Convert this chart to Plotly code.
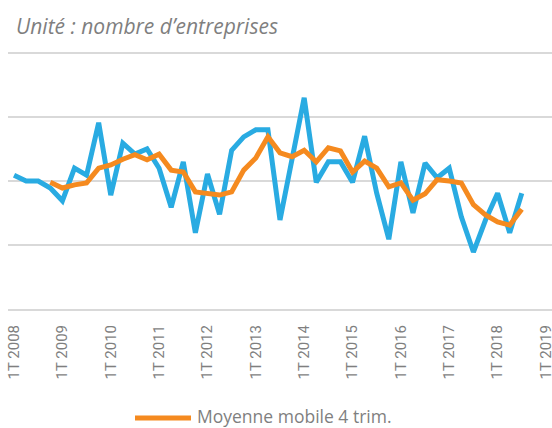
import plotly.graph_objects as go

# Quarters 1T 2008 .. 3T 2018
quarters = [f"{q}T {y}" for y in range(2008, 2019) for q in range(1, 5)][:43]

# Quarterly number of companies (arbitrary units)
valeurs = [209, 200, 200, 189, 169, 220, 209, 291, 178, 259,
           242, 250, 220, 159, 230, 119, 211, 148, 248, 269,
           280, 280, 139, 234, 330, 198, 230, 230, 198, 270,
           181, 109, 230, 150, 228, 205, 220, 144, 89, 139,
           181, 119, 181]

# 4-quarter moving average, starting 4T 2008
moyenne = [198, 189, 194, 197, 220, 225, 234, 241, 233, 242,
           217, 214, 183, 181, 178, 183, 217, 236, 269, 244,
           238, 248, 230, 252, 247, 214, 231, 220, 191, 197,
           170, 180, 202, 200, 197, 163, 147, 136, 131, 156]

tick_labels = [f"1T {y}" for y in range(2008, 2020)]
tick_pos = [4 * i for i in range(len(tick_labels))]
grid_vals = [0, 100, 200, 300, 400]

x_all = list(range(len(quarters)))
x_ma = x_all[3:]

BLUE = "#29ABE2"
ORANGE = "#F58A1F"
GREY = "#7f7f7f"

PLOT_H = 270  # px
fig = go.Figure()
fig.add_trace(go.Scatter(x=x_all, y=valeurs, mode="lines",
                         line=dict(color=BLUE, width=5),
                         showlegend=False, name="Nombre"))
fig.add_trace(go.Scatter(x=x_ma, y=moyenne, mode="lines",
                         line=dict(color=ORANGE, width=5),
                         showlegend=False, name="Moyenne mobile 4 trim."))

fig.update_layout(
    width=552, height=428,
    margin=dict(l=8, r=0, t=428 - 119 - PLOT_H, b=119),
    paper_bgcolor="white", plot_bgcolor="white",
    font=dict(family="Open Sans, Roboto, sans-serif", color=GREY),
    showlegend=False,
    xaxis=dict(range=[-0.5, 44.5], tickmode="array", tickvals=tick_pos,
               ticktext=tick_labels, tickangle=-90, showgrid=False,
               zeroline=False, showline=True, linecolor="#d9d9d9", linewidth=2,
               ticks="", tickfont=dict(family="Roboto", size=15, color=GREY),
               ticklabelstandoff=8, automargin=False, ticklabeloverflow="allow"),
    yaxis=dict(range=[0, 400 * PLOT_H / 256], tickmode="array", tickvals=grid_vals,
               showgrid=True, gridcolor="#d9d9d9", layer="below traces",
               gridwidth=2, zeroline=False, showticklabels=False, ticks="",
               showline=False, automargin=False),
    shapes=[dict(type="line", xref="paper", yref="paper",
                 x0=(135 - 8) / 544, x1=(191 - 8) / 544,
                 y0=-109 / PLOT_H, y1=-109 / PLOT_H,
                 line=dict(color=ORANGE, width=5))],
    annotations=[
        dict(text="Unité : nombre d’entreprises", xref="paper", yref="paper",
             x=0, xshift=6, y=1, yshift=428 - 119 - PLOT_H - 26, xanchor="left",
             yanchor="middle", showarrow=False,
             font=dict(family="Open Sans", size=21, color=GREY, style="italic")),
        dict(text="Moyenne mobile 4 trim.", xref="paper", yref="paper",
             x=(195 - 8) / 544, y=-107 / PLOT_H, xanchor="left", yanchor="middle",
             showarrow=False, font=dict(family="Open Sans", size=17.5, color=GREY)),
    ],
)

fig.write_html("out.html", config={"displayModeBar": False},
               post_script="document.body.style.margin='0';")
